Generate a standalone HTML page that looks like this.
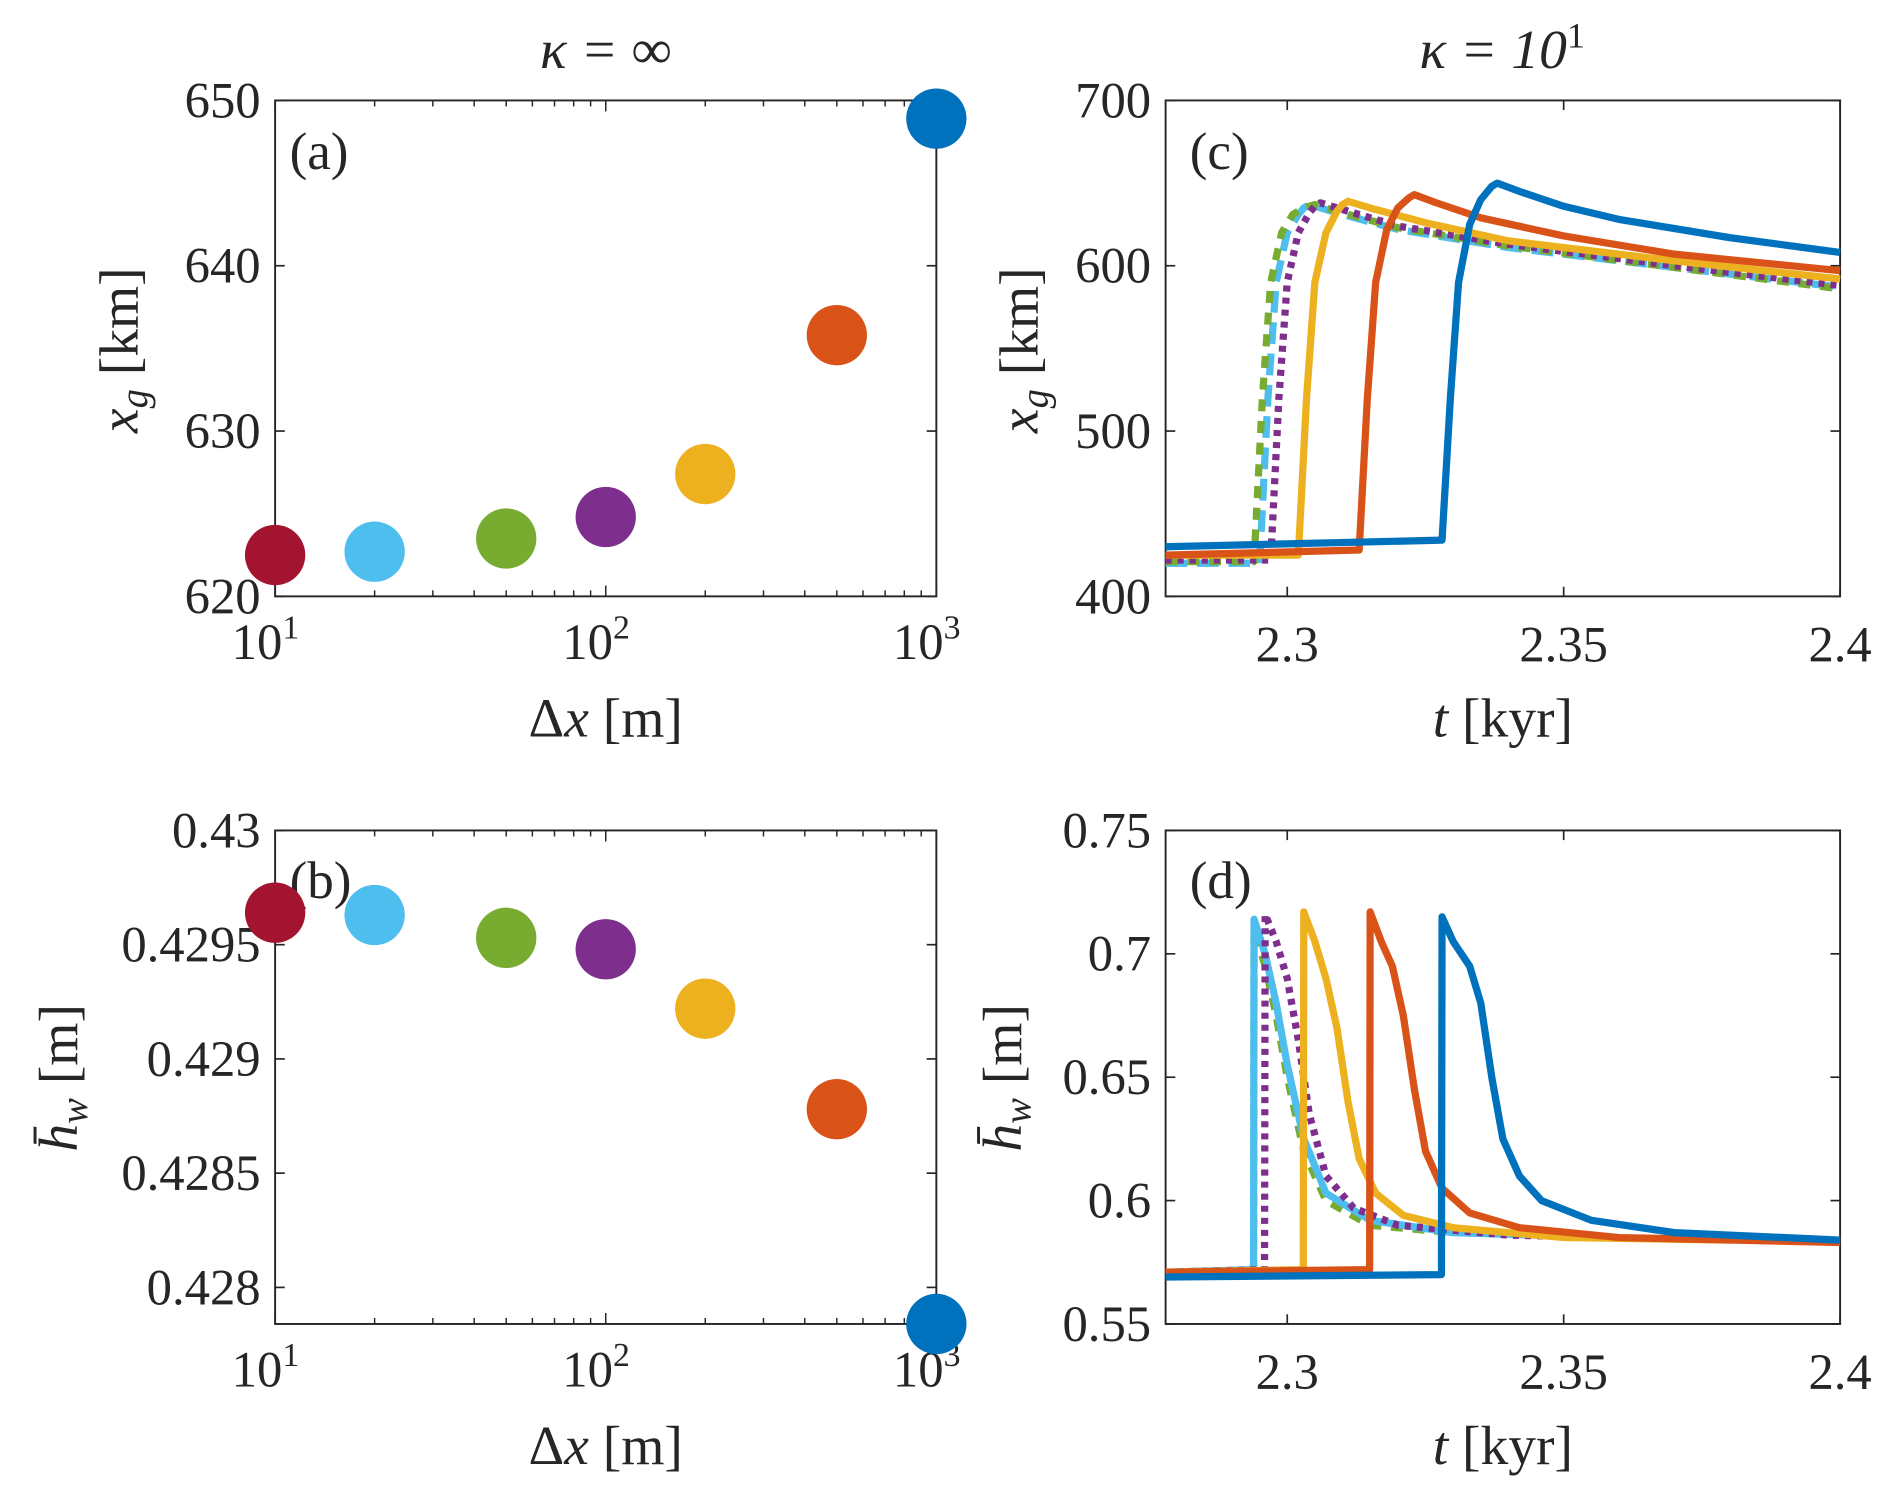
<!DOCTYPE html>
<html><head><meta charset="utf-8"><style>
html,body{margin:0;padding:0;background:#fff;}
svg{display:block;font-family:"Liberation Serif",serif;}
</style></head><body>
<svg id="fig" width="1892" height="1498" viewBox="0 0 1568 1241"></svg>
<script>
// ---- data ----
const dxValues = [10, 20, 50, 100, 200, 500, 1000];
const seriesColors = ["#A2142F","#4DBEEE","#77AC30","#7E2F8E","#EDB120","#D95319","#0072BD"];
const xgValues = [622.5, 622.7, 623.5, 624.8, 627.4, 635.8, 648.9];
const hwValues = [0.42964, 0.42963, 0.42953, 0.42948, 0.42922, 0.42878, 0.42784];
const cBlueT=[2.278,2.328,2.3295,2.331,2.333,2.335,2.337,2.338,2.342,2.35,2.36,2.38,2.4];
const cBlueX=[430,434,520,590,625,640,648,650,645,636,628,617,608];
const cOrangeT=[2.278,2.313,2.3145,2.316,2.318,2.320,2.322,2.323,2.327,2.335,2.35,2.37,2.4];
const cOrangeX=[425,428,520,590,622,635,641,643,638,629,618,607,597];
const cYellowT=[2.278,2.302,2.3035,2.305,2.307,2.309,2.310,2.311,2.315,2.325,2.34,2.37,2.4];
const cYellowX=[425,425,520,590,620,633,637,639,635,626,615,603,592];
const cPurpleT=[2.278,2.297,2.2985,2.300,2.302,2.304,2.305,2.306,2.31,2.32,2.34,2.37,2.4];
const cPurpleX=[422,422,520,590,620,632,636,638,634,624,613,600,588];
const cGreenT=[2.278,2.294,2.2955,2.297,2.299,2.301,2.303,2.305,2.31,2.32,2.34,2.37,2.4];
const cGreenX=[421,421,520,590,620,631,635,637,632,623,612,599,586];
const cLBlueT=[2.278,2.295,2.2965,2.298,2.300,2.302,2.303,2.304,2.31,2.32,2.34,2.37,2.4];
const cLBlueX=[420,420,520,590,620,631,635,637,631,622,611,599,587];
const dBlueT=[2.278,2.3279,2.328,2.330,2.333,2.335,2.337,2.339,2.342,2.346,2.355,2.37,2.4];
const dBlueH=[0.569,0.570,0.715,0.705,0.695,0.68,0.65,0.625,0.61,0.60,0.592,0.587,0.584];
const dOrangeT=[2.278,2.3149,2.315,2.317,2.319,2.321,2.323,2.325,2.328,2.333,2.342,2.36,2.4];
const dOrangeH=[0.571,0.572,0.717,0.705,0.695,0.675,0.645,0.62,0.605,0.595,0.589,0.585,0.583];
const dYellowT=[2.278,2.3029,2.303,2.305,2.307,2.309,2.311,2.313,2.316,2.321,2.33,2.35,2.38];
const dYellowH=[0.571,0.572,0.717,0.705,0.69,0.67,0.64,0.617,0.603,0.594,0.589,0.585,0.584];
const dPurpleT=[2.278,2.2959,2.296,2.298,2.300,2.302,2.304,2.307,2.312,2.32,2.34,2.36];
const dPurpleH=[0.571,0.572,0.716,0.705,0.69,0.665,0.635,0.61,0.597,0.59,0.586,0.585];
const dGreenT=[2.278,2.2939,2.294,2.296,2.298,2.300,2.303,2.307,2.315,2.33];
const dGreenH=[0.571,0.572,0.71,0.695,0.675,0.65,0.62,0.60,0.59,0.587];
const dLBlueT=[2.278,2.2939,2.294,2.296,2.298,2.300,2.303,2.307,2.315,2.33,2.36];
const dLBlueH=[0.571,0.572,0.714,0.70,0.68,0.655,0.625,0.603,0.592,0.587,0.585];
const aTicks=[620,630,640,650];
const bTicks=[0.428,0.4285,0.429,0.4295,0.43];
const cTicks=[400,500,600,700];
const dTicks=[0.55,0.6,0.65,0.7,0.75];
const tTicks=[2.3,2.35,2.4];

const NS="http://www.w3.org/2000/svg";
const svg=document.getElementById('fig');
function el(tag,attrs,parent){const e=document.createElementNS(NS,tag);for(const k in attrs)e.setAttribute(k,attrs[k]);(parent||svg).appendChild(e);return e;}
function txt(s,x,y,size,anchor,parent,style){const t=el('text',{x:x,y:y,'font-size':size,'text-anchor':anchor||'middle',fill:'#262626'},parent);if(style)t.setAttribute('font-style',style);t.textContent=s;return t;}

const L={x0:228,x1:776}, R={x0:966,x1:1525};
const TOP={y0:83,y1:494}, BOT={y0:688,y1:1097};
const logX=v=>L.x0+(Math.log10(v)-1)/2*(L.x1-L.x0);
const tX=v=>R.x0+(v-2.278)/(2.4-2.278)*(R.x1-R.x0);
const aY=v=>TOP.y1-(v-620)/30*(TOP.y1-TOP.y0);
const bY=v=>BOT.y0+(0.43-v)/(0.43-0.42784)*(BOT.y1-BOT.y0);
const cY=v=>TOP.y1-(v-400)/300*(TOP.y1-TOP.y0);
const dY=v=>BOT.y1-(v-0.55)/0.2*(BOT.y1-BOT.y0);

function axes(name,xr,yr,yticks,yfn,ylabs){
  const g=el('g',{});
  
  
  el('rect',{x:xr.x0,y:yr.y0,width:xr.x1-xr.x0,height:yr.y1-yr.y0,fill:'none',stroke:'#262626','stroke-width':1.6},g);
  yticks.forEach((v,i)=>{const y=yfn(v);
    el('line',{x1:xr.x0,x2:xr.x0+8,y1:y,y2:y,stroke:'#262626','stroke-width':1.4},g);
    el('line',{x1:xr.x1,x2:xr.x1-8,y1:y,y2:y,stroke:'#262626','stroke-width':1.4},g);
    const t=txt(ylabs[i],xr.x0-12,y+14,42,'end',g);
    
    
  });
  return g;
}
function fmt(v,d){return String(+v.toFixed(d));}
const ga=axes('panel-a-axes',L,TOP,aTicks,aY,aTicks.map(String));
const gb=axes('panel-b-axes',L,BOT,bTicks,bY,bTicks.map(v=>fmt(v,4)));
const gc=axes('panel-c-axes',R,TOP,cTicks,cY,cTicks.map(String));
const gd=axes('panel-d-axes',R,BOT,dTicks,dY,dTicks.map(v=>fmt(v,2)));
[[ga,TOP],[gb,BOT]].forEach(([g,yr])=>{
  for(let d=1;d<=2;d++)for(let m=1;m<=10;m++){const v=m*Math.pow(10,d);if(v>1000)continue;const x=logX(v);const len=(m===1||m===10)?9:5;
    el('line',{x1:x,x2:x,y1:yr.y1,y2:yr.y1-len,stroke:'#262626','stroke-width':1.2},g);
    el('line',{x1:x,x2:x,y1:yr.y0,y2:yr.y0+len,stroke:'#262626','stroke-width':1.2},g);}
  [1,2,3].forEach(p=>{const x=logX(Math.pow(10,p));const t=el('text',{x:x-8,y:yr.y1+52,'font-size':42,'text-anchor':'middle',fill:'#262626'},g);t.textContent='10';
    const s=el('tspan',{dy:-17,'font-size':28},t);s.textContent=String(p);});
  const t=el('text',{x:(L.x0+L.x1)/2,y:yr.y1+116,'font-size':46,'text-anchor':'middle',fill:'#262626'},g);
  const a=el('tspan',{},t);a.textContent='Δ';const b=el('tspan',{'font-style':'italic'},t);b.textContent='x';const c=el('tspan',{},t);c.textContent=' [m]';
});
[[gc,TOP],[gd,BOT]].forEach(([g,yr])=>{
  tTicks.forEach(v=>{const x=tX(v);
    el('line',{x1:x,x2:x,y1:yr.y1,y2:yr.y1-8,stroke:'#262626','stroke-width':1.4},g);
    el('line',{x1:x,x2:x,y1:yr.y0,y2:yr.y0+8,stroke:'#262626','stroke-width':1.4},g);
    txt(String(v),x,yr.y1+54,42,'middle',g);});
  const t=el('text',{x:(R.x0+R.x1)/2,y:yr.y1+116,'font-size':46,'text-anchor':'middle',fill:'#262626'},g);
  const a=el('tspan',{'font-style':'italic'},t);a.textContent='t';const b=el('tspan',{},t);b.textContent=' [kyr]';
});
function ylab(x,y,sym,sub,unit){const t=el('text',{transform:`translate(${x},${y}) rotate(-90)`,'font-size':46,'text-anchor':'middle',fill:'#262626'});
  
  const a=el('tspan',{'font-style':'italic'},t);a.textContent=sym;const s=el('tspan',{'font-style':'italic','font-size':32,dy:8},t);s.textContent=sub;const r=el('tspan',{dy:-8},t);r.textContent=' ['+unit+']';}
ylab(114,290,'x','g','km');ylab(64,893,'h̄','w','m');ylab(860,290,'x','g','km');ylab(846,893,'h̄','w','m');
[['κ = ∞',502],['κ = 10',1245]].forEach(([s,x],i)=>{const t=el('text',{x:x,y:56,'font-size':46,'text-anchor':'middle',fill:'#262626','font-style':'italic'});
  t.textContent=s;
  if(i===1){const sp=el('tspan',{dy:-17,'font-size':30,'font-style':'normal'},t);sp.textContent='1';}});
txt('(a)',240,140,44,'start');txt('(c)',986,140,44,'start');txt('(b)',240,744,44,'start');txt('(d)',986,744,44,'start');
dxValues.forEach((d,i)=>{
  const c=el('circle',{cx:logX(d),cy:aY(xgValues[i]),r:25,fill:seriesColors[i]});
  
  const c2=el('circle',{cx:logX(d),cy:bY(hwValues[i]),r:25,fill:seriesColors[i]});
  
});
function line(T,V,xf,yf,color,dash,name){
  const p=el('path',{d:T.map((t,i)=>(i?'L':'M')+xf(t).toFixed(1)+','+yf(V[i]).toFixed(1)).join(''),fill:'none',stroke:color,'stroke-width':6,'stroke-linejoin':'round'});
  if(dash)p.setAttribute('stroke-dasharray',dash);
  
}
line(cLBlueT,cLBlueX,tX,cY,seriesColors[1],'18,8','xg-line-20');
line(cGreenT,cGreenX,tX,cY,seriesColors[2],'10,8','xg-line-50');
line(cPurpleT,cPurpleX,tX,cY,seriesColors[3],'5,5','xg-line-100');
line(cYellowT,cYellowX,tX,cY,seriesColors[4],null,'xg-line-200');
line(cOrangeT,cOrangeX,tX,cY,seriesColors[5],null,'xg-line-500');
line(cBlueT,cBlueX,tX,cY,seriesColors[6],null,'xg-line-1000');
line(dGreenT,dGreenH,tX,dY,seriesColors[2],'10,8','hw-line-50');
line(dLBlueT,dLBlueH,tX,dY,seriesColors[1],null,'hw-line-20');
line(dPurpleT,dPurpleH,tX,dY,seriesColors[3],'5,5','hw-line-100');
line(dYellowT,dYellowH,tX,dY,seriesColors[4],null,'hw-line-200');
line(dOrangeT,dOrangeH,tX,dY,seriesColors[5],null,'hw-line-500');
line(dBlueT,dBlueH,tX,dY,seriesColors[6],null,'hw-line-1000');
</script>
</body></html>
